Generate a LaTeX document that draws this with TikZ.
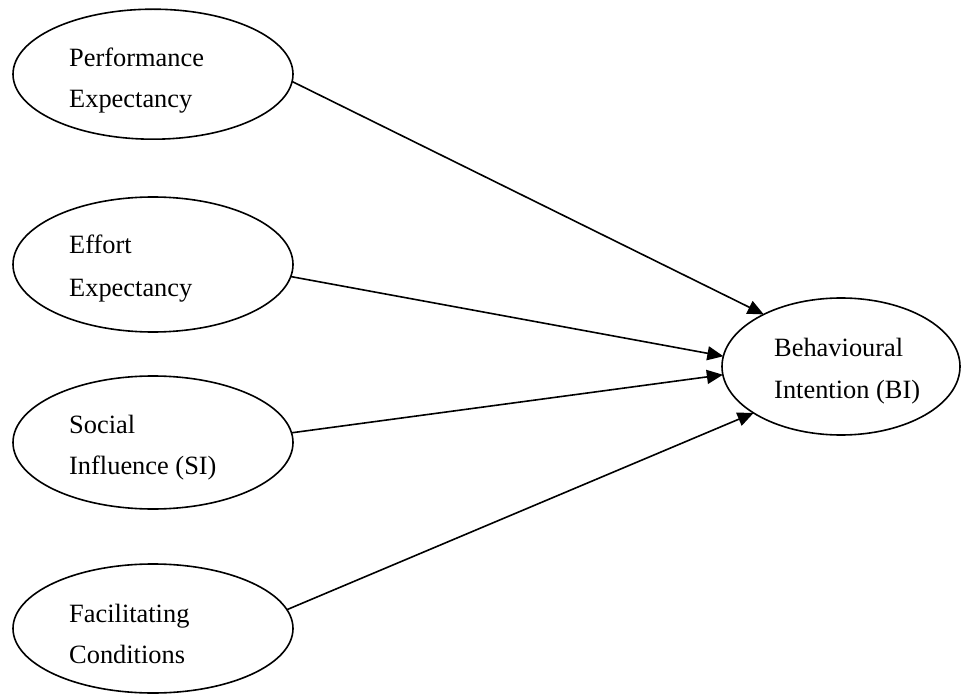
\documentclass[tikz,border=0pt]{standalone}
\usepackage{fontspec}
\setmainfont{Liberation Serif}
\usetikzlibrary{shapes.geometric,arrows.meta}
\tikzset{
  ell/.style={draw, ellipse, line width=1.6pt, inner sep=0pt, outer sep=0pt},
  lbl/.style={anchor=base west, inner sep=0pt, font=\fontsize{26.4}{30}\selectfont},
  conn/.style={line width=1.6pt, -{Triangle[length=16pt,width=14pt]}}
}
\begin{document}
\begin{tikzpicture}[x=1pt,y=1pt]
\useasboundingbox (0,0) rectangle (961,-695);
% ellipses
\node[ell, minimum width=280pt, minimum height=130pt] (pe) at (153,-74.2) {};
\node[ell, minimum width=280pt, minimum height=135pt] (ee) at (153,-264.5) {};
\node[ell, minimum width=280pt, minimum height=133pt] (si) at (153,-442.5) {};
\node[ell, minimum width=280pt, minimum height=129pt] (fc) at (153,-628.5) {};
\node[ell, minimum width=238pt, minimum height=137pt] (bi) at (841,-366.5) {};
% labels
\node[lbl] (pe1) at (69,-67) {Performance};
\node[lbl] (pe2) at (69,-108) {Expectancy};
\node[lbl] (ee1) at (69,-254) {Effort};
\node[lbl] (ee2) at (69,-296) {Expectancy};
\node[lbl] (si1) at (69,-433) {Social};
\node[lbl] (si2) at (69,-474) {Influence (SI)};
\node[lbl] (fc1) at (69,-622) {Facilitating};
\node[lbl] (fc2) at (69,-663) {Conditions};
\node[lbl] (bi1) at (774,-356) {Behavioural};
\node[lbl] (bi2) at (774,-398) {Intention (BI)};
% connectors
\draw[conn] (pe.-3.3) -- (bi.146.9);
\draw[conn] (ee.-5.3) -- (bi.175);
\draw[conn] (si.4.1) -- (bi.184);
\draw[conn] (fc.8.3) -- (bi.208.2);
\end{tikzpicture}
\end{document}
